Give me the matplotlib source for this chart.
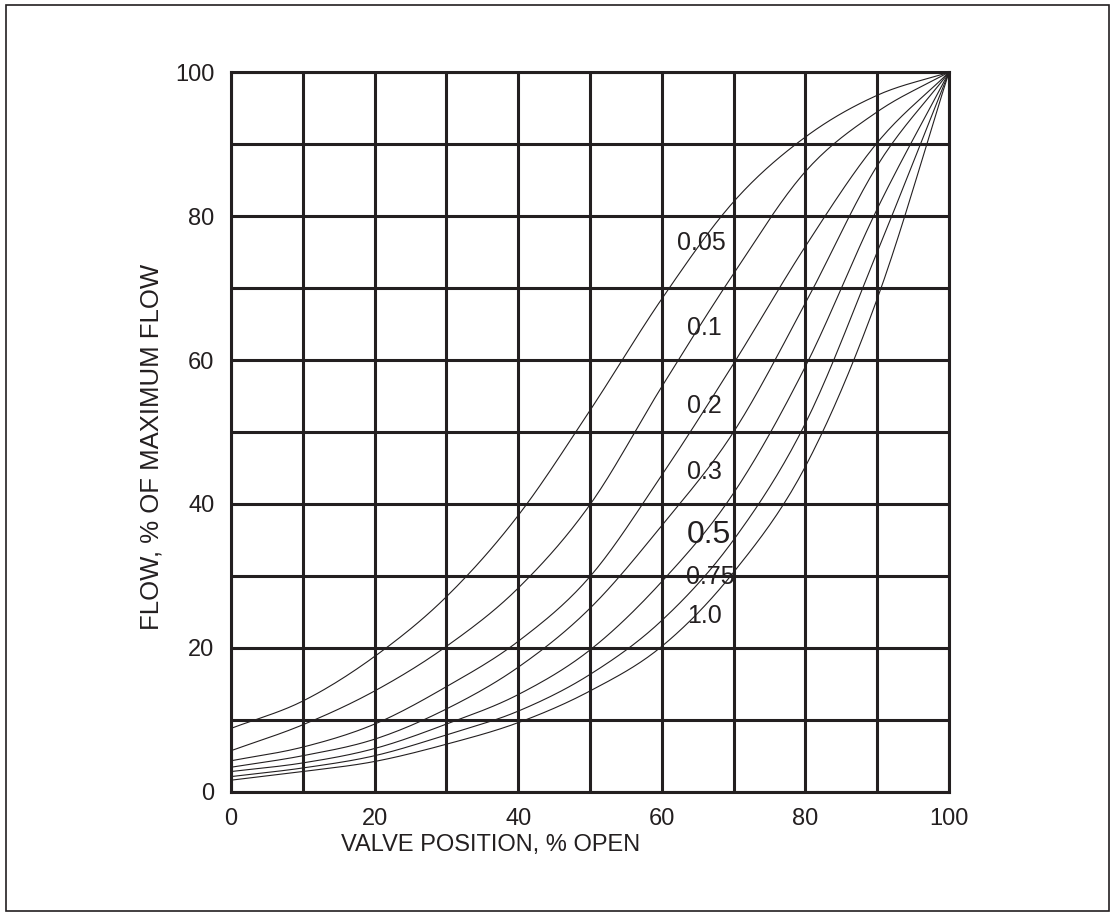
import numpy as np
import matplotlib
matplotlib.use("Agg")
import matplotlib.pyplot as plt
from matplotlib.patches import Rectangle

# valve position (% open) at which the curves were read
position = [0, 10, 20, 30, 40, 50, 60, 70, 80, 90, 100]

# flow (% of max) for each curve
flow_005 = [8.8, 12.6, 18.8, 27.1, 38.4, 53.0, 68.5, 82.0, 91.0, 96.8, 100]
flow_01 = [5.7, 9.3, 14.0, 20.2, 28.3, 39.9, 56.3, 72.0, 86.2, 94.5, 100]
flow_02 = [4.3, 6.2, 9.4, 14.6, 20.9, 29.9, 44.0, 59.5, 75.8, 90.2, 100]
flow_03 = [3.4, 5.0, 7.3, 11.5, 17.3, 25.5, 37.0, 50.0, 67.9, 87.0, 100]
flow_05 = [2.8, 4.0, 6.0, 9.4, 13.5, 19.7, 29.2, 41.5, 59.1, 81.0, 100]
flow_075 = [2.1, 3.3, 5.0, 7.9, 11.2, 16.3, 23.8, 35.0, 51.2, 75.0, 100]
flow_10 = [1.6, 2.8, 4.2, 6.6, 9.6, 14.0, 20.2, 30.5, 45.2, 68.5, 100]

curve_labels = ["0.05", "0.1", "0.2", "0.3", "0.5", "0.75", "1.0"]
label_x = [65.5, 65.9, 66.0, 66.0, 66.6, 66.8, 65.9]
label_y = [76.2, 64.5, 53.6, 44.5, 35.7, 29.9, 24.4]
label_size = [18, 18, 18, 18, 23, 18, 18]

ink = "#231f20"


def smooth(x, y, n=20):
    # catmull-rom just for drawing a smooth line through the read points
    x = np.asarray(x, float)
    y = np.asarray(y, float)
    px = np.concatenate([[2 * x[0] - x[1]], x, [2 * x[-1] - x[-2]]])
    py = np.concatenate([[2 * y[0] - y[1]], y, [2 * y[-1] - y[-2]]])
    xs, ys = [], []
    t = np.linspace(0, 1, n, endpoint=False)
    for i in range(1, len(px) - 2):
        for arr, out in ((px, xs), (py, ys)):
            p0, p1, p2, p3 = arr[i - 1], arr[i], arr[i + 1], arr[i + 2]
            out.extend(0.5 * (2 * p1 + (-p0 + p2) * t
                              + (2 * p0 - 5 * p1 + 4 * p2 - p3) * t ** 2
                              + (-p0 + 3 * p1 - 3 * p2 + p3) * t ** 3))
    xs.append(x[-1])
    ys.append(y[-1])
    return np.array(xs), np.array(ys)


plt.rcParams["font.family"] = ["Liberation Sans", "DejaVu Sans"]

fig = plt.figure(figsize=(11.15, 9.16), dpi=100)
ax = fig.add_axes([0.2072, 0.1357, 0.6439, 0.7854])

all_curves = [flow_005, flow_01, flow_02, flow_03, flow_05, flow_075, flow_10]
for ys in all_curves:
    sx, sy = smooth(position, ys)
    ax.plot(sx, sy, color=ink, lw=0.8, zorder=3)

for txt, lx, ly, fs in zip(curve_labels, label_x, label_y, label_size):
    ax.text(lx, ly, txt, ha="center", va="center", fontsize=fs, color=ink, zorder=4)

ax.set_xlim(0, 100)
ax.set_ylim(0, 100)
ax.set_xticks(np.arange(0, 101, 20))
ax.set_yticks(np.arange(0, 101, 20))
ax.set_xticks(np.arange(0, 101, 10), minor=True)
ax.set_yticks(np.arange(0, 101, 10), minor=True)
ax.grid(which="both", color=ink, lw=2.2)
ax.set_axisbelow(True)
ax.tick_params(which="both", length=0, labelsize=17, colors=ink)
ax.tick_params(axis="x", pad=12)
ax.tick_params(axis="y", pad=12)
for s in ax.spines.values():
    s.set_color(ink)
    s.set_linewidth(2.2)

fig.text(491 / 1115, 1 - 845 / 916, "VALVE POSITION, % OPEN", ha="center",
         va="center", fontsize=17, color=ink)
fig.text(152 / 1115, 1 - 447 / 916, "FLOW, % OF MAXIMUM FLOW", ha="center",
         va="center", rotation=90, fontsize=18.5, color=ink)

fig.patches.append(Rectangle((0.005, 0.005), 0.99, 0.99, transform=fig.transFigure,
                             fill=False, edgecolor=ink, lw=1.2))

fig.savefig("out.png", dpi=100)
